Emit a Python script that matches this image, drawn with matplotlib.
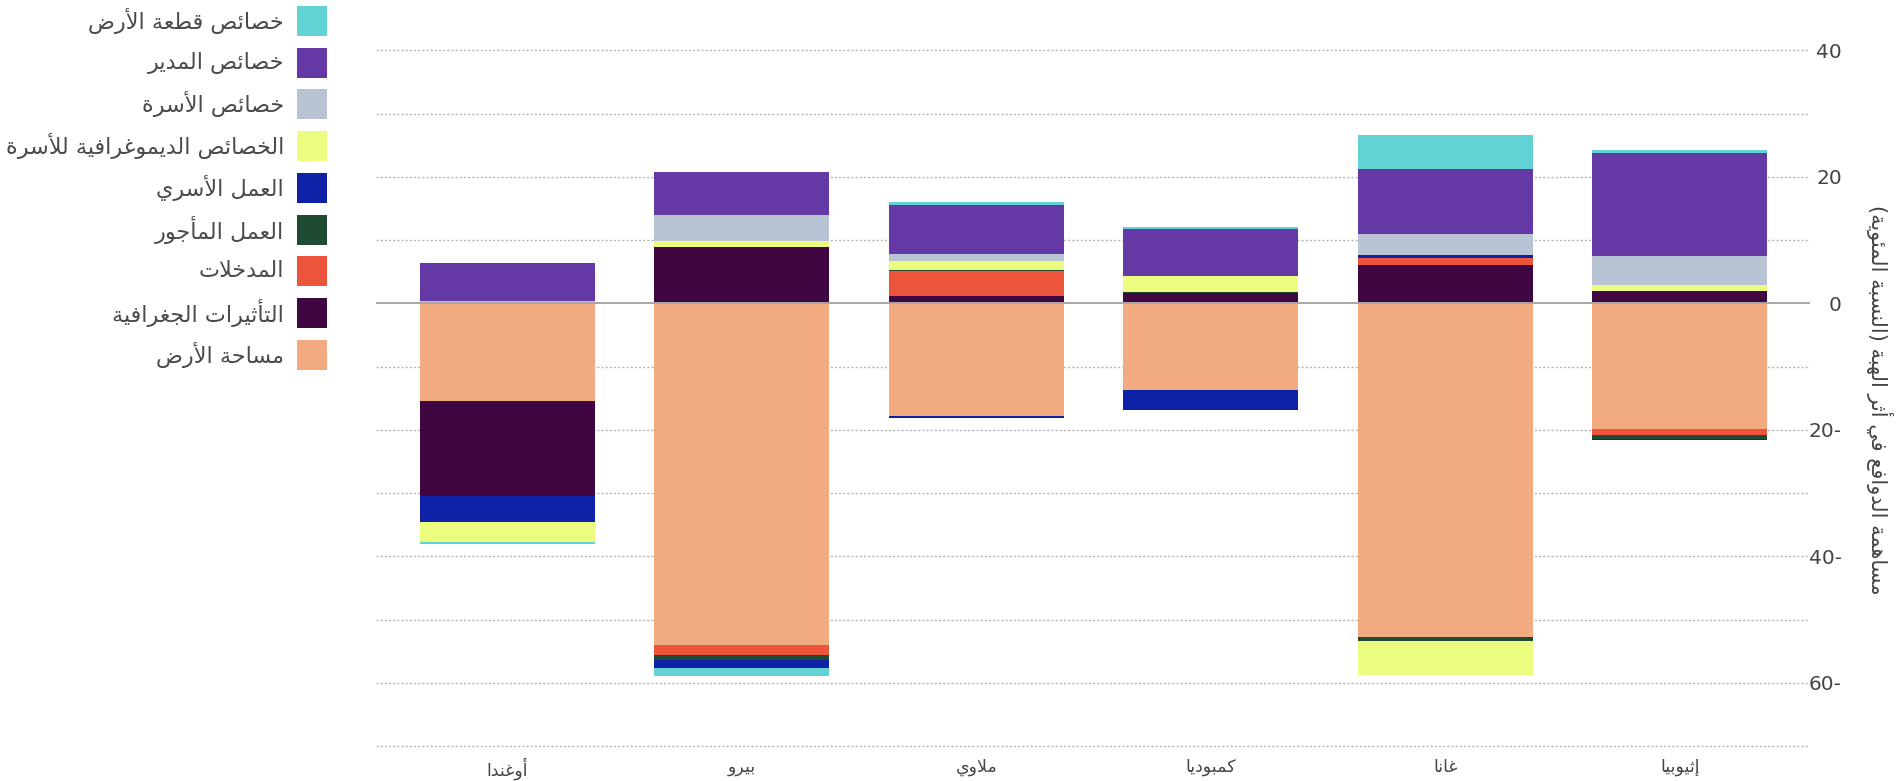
import matplotlib
matplotlib.use("Agg")
import matplotlib.pyplot as plt
from matplotlib.patches import Rectangle
from matplotlib.ticker import FuncFormatter
import numpy as np

# --- minimal Arabic shaping (matplotlib has no complex text layout) ---
# letter -> (first presentation form, number of forms)
FORMS = {
    'آ': (0xFE81, 2), 'أ': (0xFE83, 2), 'ؤ': (0xFE85, 2), 'إ': (0xFE87, 2),
    'ئ': (0xFE89, 4), 'ا': (0xFE8D, 2), 'ب': (0xFE8F, 4), 'ة': (0xFE93, 2),
    'ت': (0xFE95, 4), 'ث': (0xFE99, 4), 'ج': (0xFE9D, 4), 'ح': (0xFEA1, 4),
    'خ': (0xFEA5, 4), 'د': (0xFEA9, 2), 'ذ': (0xFEAB, 2), 'ر': (0xFEAD, 2),
    'ز': (0xFEAF, 2), 'س': (0xFEB1, 4), 'ش': (0xFEB5, 4), 'ص': (0xFEB9, 4),
    'ض': (0xFEBD, 4), 'ط': (0xFEC1, 4), 'ظ': (0xFEC5, 4), 'ع': (0xFEC9, 4),
    'غ': (0xFECD, 4), 'ف': (0xFED1, 4), 'ق': (0xFED5, 4), 'ك': (0xFED9, 4),
    'ل': (0xFEDD, 4), 'م': (0xFEE1, 4), 'ن': (0xFEE5, 4), 'ه': (0xFEE9, 4),
    'و': (0xFEED, 2), 'ى': (0xFEEF, 2), 'ي': (0xFEF1, 4),
}
LAM_ALEF = {'آ': 0xFEF5, 'أ': 0xFEF7, 'إ': 0xFEF9, 'ا': 0xFEFB}
MIRROR = {'(': ')', ')': '('}


def shape(text):
    tokens = []
    i = 0
    while i < len(text):
        c = text[i]
        if c == 'ل' and i + 1 < len(text) and text[i + 1] in LAM_ALEF:
            tokens.append((LAM_ALEF[text[i + 1]], 2))
            i += 2
            continue
        tokens.append(FORMS.get(c, c))
        i += 1
    out = []
    for k, t in enumerate(tokens):
        if isinstance(t, str):
            out.append(MIRROR.get(t, t))
            continue
        base, n = t
        prev = tokens[k - 1] if k > 0 else None
        nxt = tokens[k + 1] if k + 1 < len(tokens) else None
        join_prev = prev is not None and not isinstance(prev, str) and prev[1] == 4
        join_next = n == 4 and nxt is not None and not isinstance(nxt, str)
        if join_prev and join_next:
            off = 3
        elif join_prev:
            off = 1
        elif join_next:
            off = 2
        else:
            off = 0
        out.append(chr(base + off))
    return ''.join(reversed(out))


# --- data (percent contribution) ---
countries = ['أوغندا', 'بيرو', 'ملاوي', 'كمبوديا', 'غانا', 'إثيوبيا']

land_area = [-15.5, -54.0, -17.8, -13.7, -52.8, -19.8]
geo_effects = [-15.0, 8.9, 1.1, 1.6, 6.0, 2.0]
inputs = [0.15, -1.6, 4.0, 0.0, 1.1, -1.0]
hired_labor = [0.0, -0.8, 0.15, 0.2, -0.6, -0.6]
family_labor = [-4.1, -1.2, -0.4, -3.2, 0.6, -0.2]
hh_demography = [-3.1, 1.0, 1.4, 2.5, -5.3, 0.9]
household = [0.3, 4.1, 1.2, 0.1, 3.3, 4.6]
manager = [6.0, 6.8, 7.7, 7.4, 10.3, 16.3]
plot_chars = [-0.3, -1.3, 0.5, 0.35, 5.4, 0.4]

# stacking order (from zero outwards), legend shows it reversed
series = [
    ('مساحة الأرض', land_area, '#f2ab80'),
    ('التأثيرات الجغرافية', geo_effects, '#3f0641'),
    ('المدخلات', inputs, '#ec553c'),
    ('العمل المأجور', hired_labor, '#1f4a33'),
    ('العمل الأسري', family_labor, '#0e22a8'),
    ('الخصائص الديموغرافية للأسرة', hh_demography, '#ebfc7f'),
    ('خصائص الأسرة', household, '#b8c4d3'),
    ('خصائص المدير', manager, '#6439a6'),
    ('خصائص قطعة الأرض', plot_chars, '#62d2d4'),
]

W, H = 1904, 781
fig = plt.figure(figsize=(W / 100, H / 100), dpi=100)
ax = fig.add_axes([376 / W, 1 - 748 / H, (1810 - 376) / W, (748 - 48.5) / H])

x = np.arange(len(countries))
pos = np.zeros(len(countries))
neg = np.zeros(len(countries))
for name, vals, color in series:
    v = np.array(vals)
    bottom = np.where(v >= 0, pos, neg)
    ax.bar(x, v, bottom=bottom, width=0.746, color=color, linewidth=0, zorder=3)
    pos = pos + np.where(v >= 0, v, 0)
    neg = neg + np.where(v < 0, v, 0)

ax.set_xlim(-0.56, 5.555)
ax.set_ylim(-70.3, 40.3)
ax.set_yticks(np.arange(-70, 41, 10))
for yv in np.arange(-70, 41, 10):
    if yv == 0:
        ax.axhline(0, color='#a8a8a8', linewidth=1.4, zorder=4)
    else:
        ax.axhline(yv, color='#b4b4b4', linewidth=1.0, linestyle=(0, (1.5, 1.5)), zorder=1)

ax.yaxis.tick_right()
ax.yaxis.set_major_formatter(FuncFormatter(
    lambda v, p: '' if round(v) % 20 else (f'{abs(round(v))}-' if v < 0 else f'{round(v)}')))
ax.tick_params(axis='y', length=0, pad=23, labelsize=14.5, labelcolor='#444444')
for lab in ax.get_yticklabels():
    lab.set_horizontalalignment('right')

ax.set_xticks(x)
ax.set_xticklabels([shape(c) for c in countries], fontsize=12.5, color='#444444')
ax.tick_params(axis='x', length=0, pad=7)

for s in ax.spines.values():
    s.set_visible(False)

fig.text(1880 / W, 1 - 400 / H, shape('مساهمة الدوافع في أثر الهبة (النسبة المئوية)'),
         rotation=-90, ha='center', va='center', fontsize=15, color='#444444')

# legend: text on the left, swatch on the right
for i, (name, vals, color) in enumerate(reversed(series)):
    yc = 21 + i * 41.7
    fig.add_artist(Rectangle((297 / W, 1 - (yc + 15) / H), 30 / W, 30 / H,
                             transform=fig.transFigure, color=color, linewidth=0))
    fig.text(284 / W, 1 - yc / H, shape(name), ha='right', va='center',
             fontsize=16, color='#4a4a4a')

fig.savefig('out.png', dpi=100)
